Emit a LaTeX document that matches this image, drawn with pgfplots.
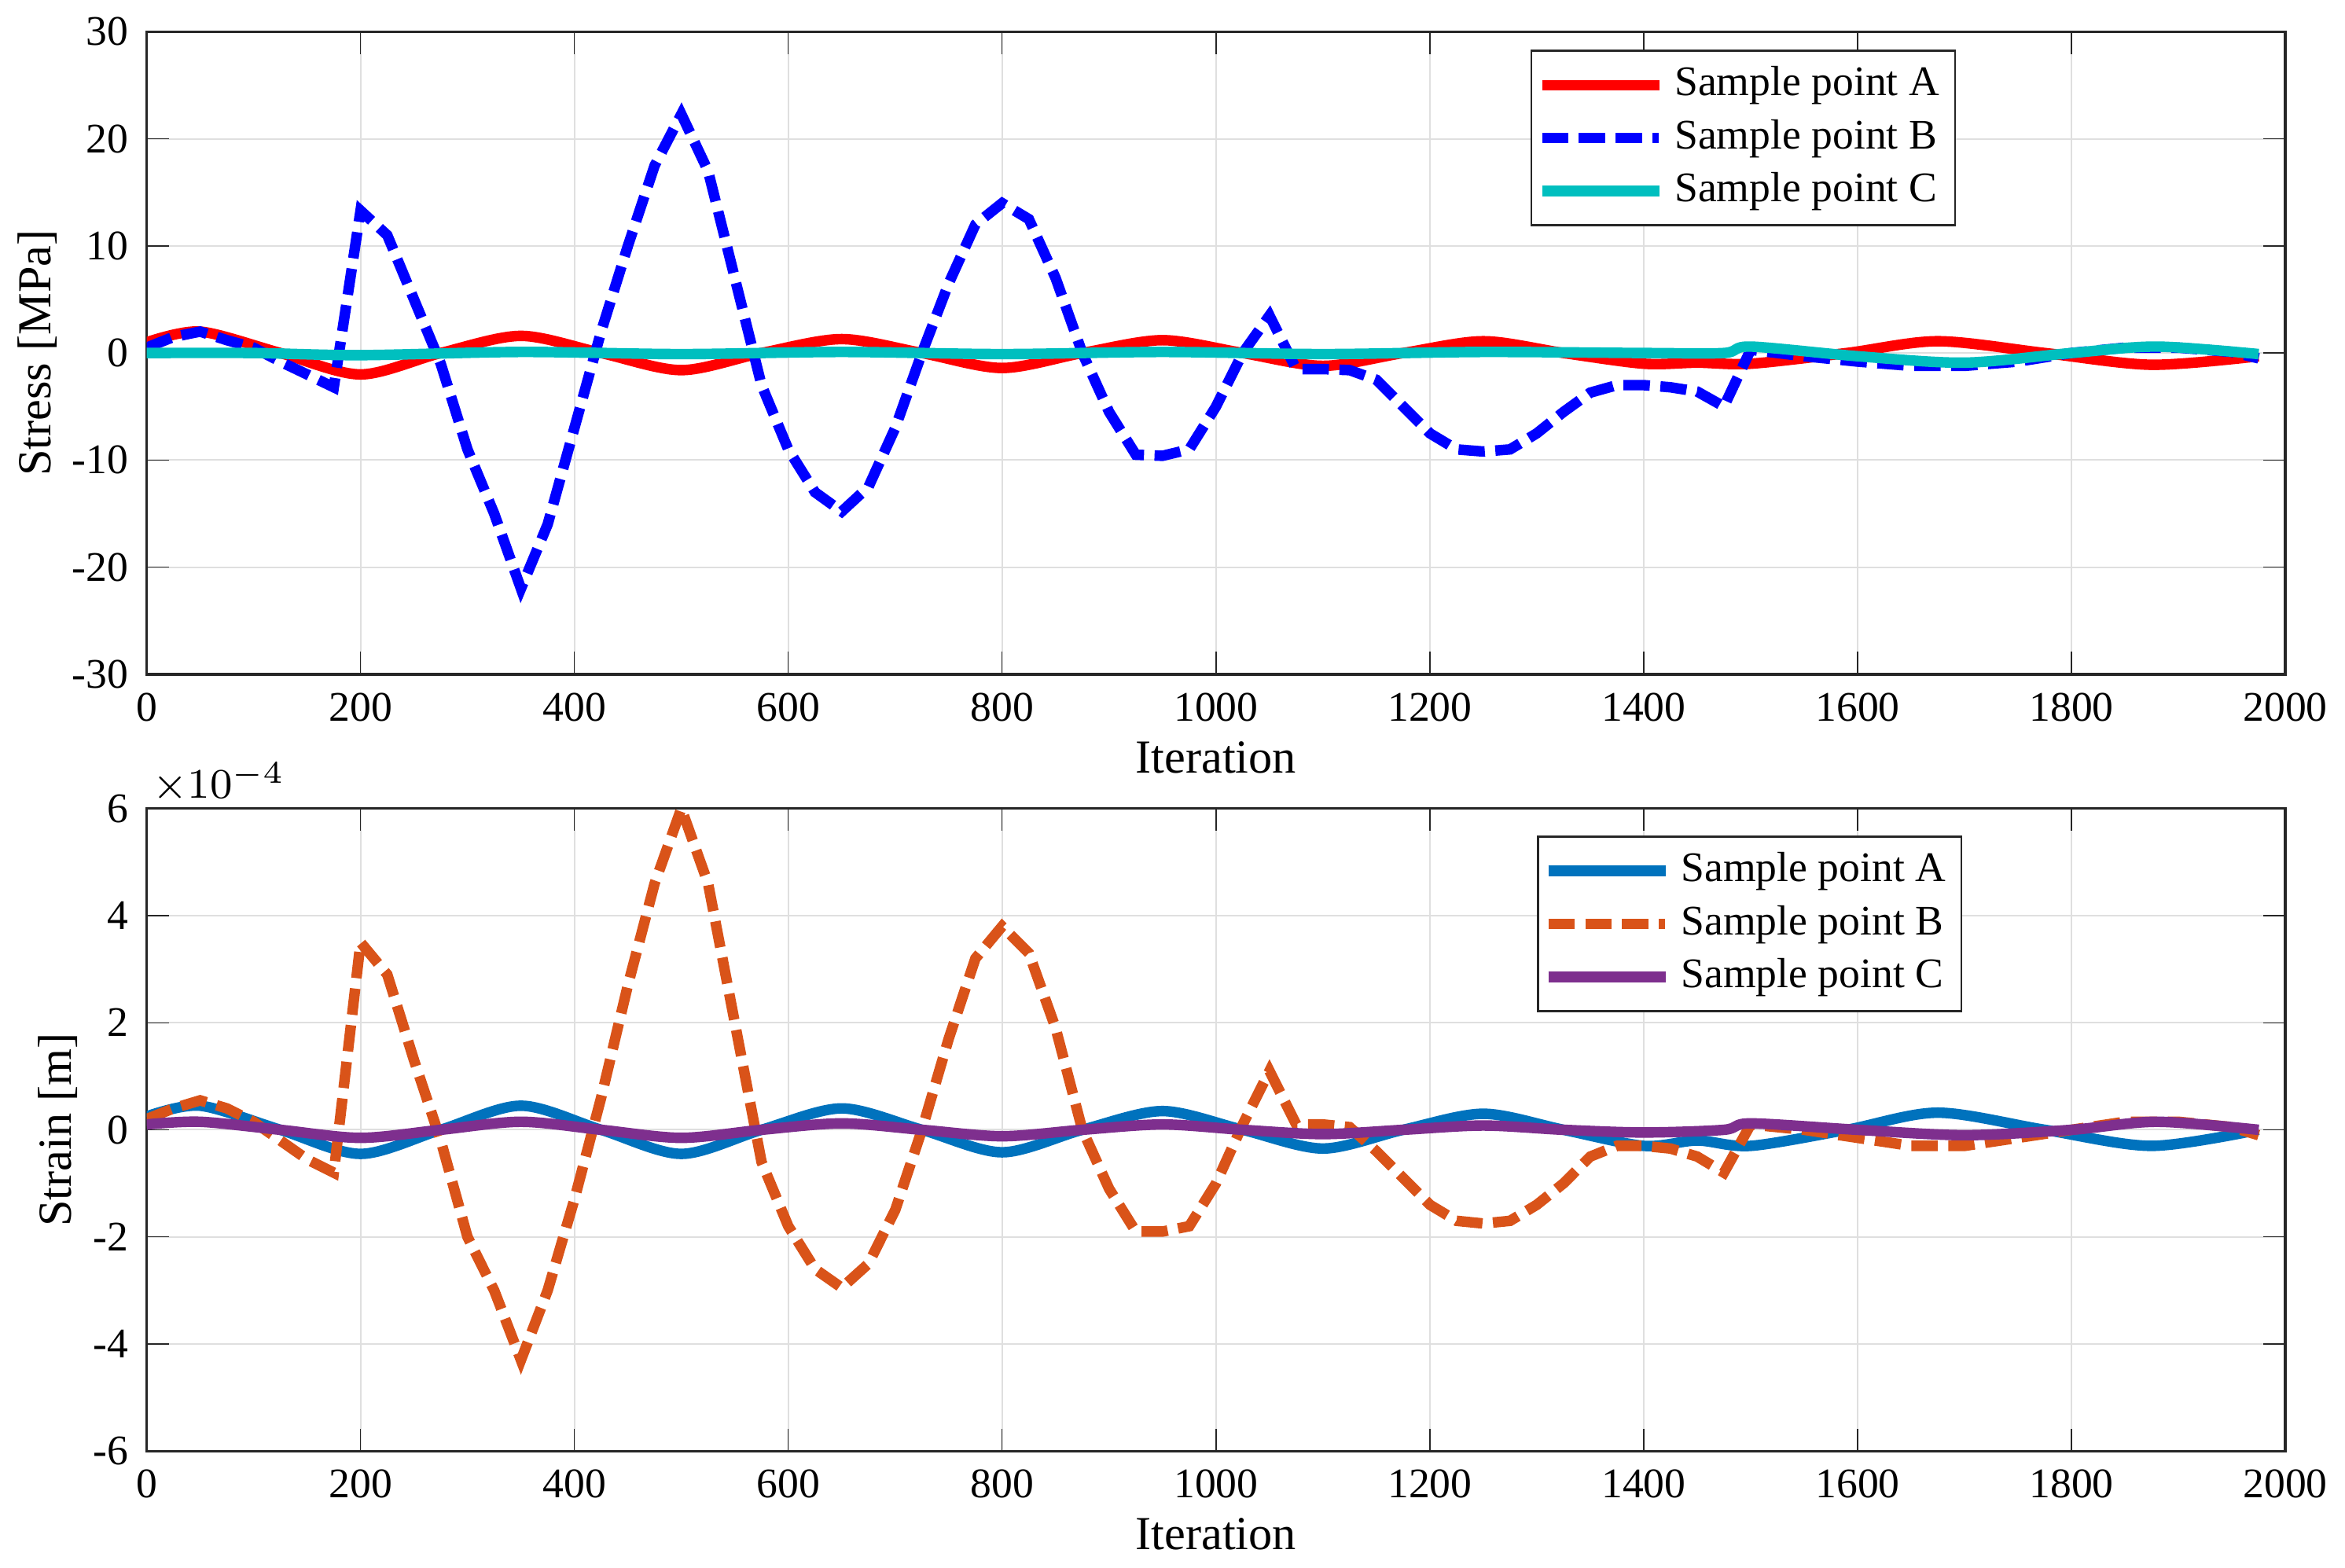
\documentclass[border=0pt]{standalone}
\usepackage{pgfplots}
\pgfplotsset{compat=1.18}
\usepackage{fontspec}
\setmainfont{Liberation Serif}
\definecolor{mA}{rgb}{0,0.447,0.741}
\definecolor{mB}{rgb}{0.85,0.325,0.098}
\definecolor{mC}{rgb}{0.494,0.184,0.556}
\definecolor{cy}{rgb}{0,0.75,0.75}
\pgfplotsset{every axis/.style={width=406pt,height=122pt,scale only axis,
 xmin=0,xmax=2000,xtick={0,200,...,2000},grid=major,
 grid style={gray!25,line width=0.3pt},axis line style={black!85,line width=0.5pt},
 tick style={black!85},tick align=inside,
 /pgf/number format/assume math mode=true,/pgf/number format/1000 sep={},
 ticklabel style={font=\fontsize{8}{9}\selectfont},
 label style={font=\fontsize{9}{10}\selectfont},
 legend style={font=\fontsize{8}{9}\selectfont,draw=black!85,inner sep=1pt,row sep=-1pt},
 legend cell align=left,legend image post style={xscale=1.3},
 xlabel={Iteration},xlabel style={yshift=3pt},ylabel style={yshift=-4pt},
 scaled ticks=false}}
\begin{document}
\begin{tikzpicture}
\begin{axis}[at={(0,0)},ymin=-30,ymax=30,ytick={-30,-20,...,30},ylabel={Stress [MPa]},
 legend style={at={(0.647,0.972)},anchor=north west}]
\addplot[red,line width=2pt,smooth] coordinates {(0,1)(50,2)(125,0)(200,-2)(275,0)(350,1.6)(425,0)(500,-1.6)(575,0)(650,1.3)(725,0)(800,-1.4)(875,0)(950,1.2)(1025,0)(1100,-1.2)(1175,0)(1250,1.1)(1325,0)(1400,-1.0)(1450,-0.9)(1500,-1.0)(1590,0)(1675,1.1)(1775,0)(1875,-1.1)(1975,-0.3)};
\addlegendentry{Sample point A}
\addplot[blue,line width=2pt,dash pattern=on 5pt off 2pt] coordinates {(0,0.5)(25,1.5)(50,2)(75,1.2)(100,0.5)(125,-0.8)(150,-2)(175,-3.2)(200,13.3)(225,11)(250,5)(275,-1)(300,-9)(325,-15)(350,-22)(375,-16)(400,-7)(425,2)(450,10)(475,17.5)(500,22.3)(525,17)(550,7)(575,-3)(600,-9)(625,-13)(650,-14.8)(675,-12.5)(700,-7)(725,0)(750,6.5)(775,12)(800,14)(825,12.5)(850,7)(875,0)(900,-5.5)(925,-9.5)(950,-9.6)(975,-9)(1000,-5)(1025,0)(1050,3.5)(1075,-1.5)(1100,-1.5)(1125,-1.6)(1150,-2.5)(1175,-5)(1200,-7.5)(1225,-9)(1250,-9.2)(1275,-9)(1300,-7.5)(1325,-5.5)(1350,-3.7)(1375,-3)(1400,-3)(1425,-3.2)(1450,-3.6)(1475,-5)(1500,0.3)(1550,-0.3)(1600,-0.8)(1650,-1.2)(1700,-1.2)(1750,-0.8)(1800,0)(1850,0.5)(1900,0.5)(1950,0.1)(1975,-0.5)};
\addlegendentry{Sample point B}
\addplot[cy,line width=2pt,smooth] coordinates {(0,0)(100,0)(200,-0.2)(350,0.1)(500,-0.1)(650,0.1)(800,-0.1)(950,0.1)(1100,-0.1)(1250,0.1)(1400,0)(1475,0)(1500,0.6)(1600,-0.3)(1700,-0.9)(1800,0)(1880,0.6)(1975,-0.1)};
\addlegendentry{Sample point C}
\end{axis}
\begin{axis}[at={(0,-147.5pt)},ymin=-6,ymax=6,ytick={-6,-4,...,6},ylabel={Strain [m]},
 legend style={at={(0.650,0.958)},anchor=north west},
 after end axis/.code={\node[anchor=south west,font=\fontsize{8}{9}\selectfont,inner sep=1pt] at (rel axis cs:0,1) {$\times10^{-4}$};}]
\addplot[mA,line width=2pt,smooth] coordinates {(0,0.25)(50,0.45)(125,0)(200,-0.45)(275,0)(350,0.45)(425,0)(500,-0.45)(575,0)(650,0.4)(725,0)(800,-0.42)(875,0)(950,0.35)(1025,0)(1100,-0.35)(1175,0)(1250,0.3)(1325,0)(1400,-0.3)(1450,-0.2)(1500,-0.3)(1590,0)(1675,0.32)(1775,0)(1875,-0.3)(1975,0)};
\addlegendentry{Sample point A}
\addplot[mB,line width=2pt,dash pattern=on 5pt off 2pt] coordinates {(0,0.2)(25,0.4)(50,0.55)(75,0.4)(100,0.15)(125,-0.2)(150,-0.55)(175,-0.8)(200,3.5)(225,2.9)(250,1.3)(275,-0.2)(300,-2)(325,-3)(350,-4.3)(375,-3)(400,-1.3)(425,0.6)(450,2.7)(475,4.6)(500,6)(525,4.6)(550,2)(575,-0.6)(600,-1.8)(625,-2.6)(650,-2.95)(675,-2.5)(700,-1.5)(725,0)(750,1.7)(775,3.2)(800,3.8)(825,3.3)(850,1.9)(875,0)(900,-1.1)(925,-1.9)(950,-1.9)(975,-1.8)(1000,-1)(1025,0.1)(1050,1.1)(1075,0.1)(1100,0.1)(1125,0.05)(1150,-0.4)(1175,-0.9)(1200,-1.4)(1225,-1.7)(1250,-1.75)(1275,-1.7)(1300,-1.4)(1325,-1)(1350,-0.5)(1375,-0.3)(1400,-0.3)(1425,-0.35)(1450,-0.5)(1475,-0.8)(1500,0.1)(1550,0)(1600,-0.15)(1650,-0.3)(1700,-0.3)(1750,-0.15)(1800,0)(1850,0.15)(1900,0.15)(1950,0.05)(1975,-0.1)};
\addlegendentry{Sample point B}
\addplot[mC,line width=2pt,smooth] coordinates {(0,0.1)(50,0.15)(125,0)(200,-0.15)(275,0)(350,0.15)(425,0)(500,-0.15)(575,0)(650,0.12)(725,0)(800,-0.12)(875,0)(950,0.1)(1025,0)(1100,-0.08)(1175,0)(1250,0.08)(1325,0)(1400,-0.05)(1475,0)(1500,0.12)(1600,0)(1700,-0.1)(1800,0)(1880,0.15)(1975,0)};
\addlegendentry{Sample point C}
\end{axis}
\end{tikzpicture}
\end{document}
